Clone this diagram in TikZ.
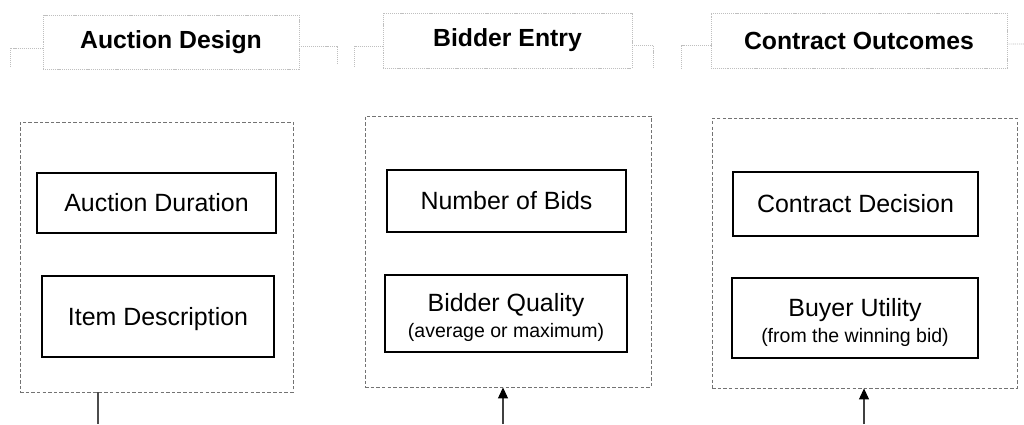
\documentclass[tikz,border=0pt]{standalone}
\usepackage{fontspec}
\setmainfont{Liberation Sans}
\usetikzlibrary{arrows.meta}

\begin{document}
\begin{tikzpicture}[x=0.02cm, y=-0.02cm,
	  head/.style={draw=black!25, dash pattern=on 0.6pt off 0.5pt, line width=0.5pt, font=\fontsize{14.1}{17}\selectfont\bfseries},
	  brk/.style={draw=black!25, dash pattern=on 0.6pt off 0.5pt, line width=0.5pt},
	  group/.style={draw=black!55, dash pattern=on 2pt off 1.2pt, line width=0.5pt, inner sep=0pt},
	  var/.style={draw, line width=1.4pt, align=center, inner sep=0pt, font=\fontsize{14.2}{14.8}\selectfont},
	  arr/.style={draw=black!75, line width=0.6pt, -{Triangle[length=0.22cm,width=0.2cm,color=black]}}]
	  \useasboundingbox (0,0) rectangle (1024,424);
	  \node [head, minimum width=5.12cm, minimum height=1.08cm] (hdA) at (171,42) {Auction Design};
	  \node [head, minimum width=4.98cm, minimum height=1.1cm] (hdB) at (507.5,40.5) {Bidder Entry};
	  \node [head, minimum width=5.92cm, minimum height=1.1cm] (hdC) at (859,40.5) {Contract Outcomes};
	  \coordinate (aL) at (10,66);
	  \coordinate (aR) at (337,64);
	  \coordinate (bL) at (354,67);
	  \coordinate (bR) at (653,67);
	  \coordinate (cL) at (681,68);
	  \coordinate (cR) at (1024,44);
	  \draw [brk] ([yshift=-0.12cm]hdA.west) -| (aL);
	  \draw [brk] ([yshift=-0.08cm]hdA.east) -| (aR);
	  \draw [brk] ([yshift=-0.11cm]hdB.west) -| (bL);
	  \draw [brk] ([yshift=-0.09cm]hdB.east) -| (bR);
	  \draw [brk] ([yshift=-0.09cm]hdC.west) -| (cL);
	  \draw [brk] ([yshift=-0.07cm]hdC.east) -- (cR);
	  \node [group, minimum width=5.46cm, minimum height=5.4cm] (grpA) at (156.5,257) {};
	  \node [group, minimum width=5.72cm, minimum height=5.42cm] (grpB) at (508,251.5) {};
	  \node [group, minimum width=6.1cm, minimum height=5.4cm] (grpC) at (864.5,253) {};
	  \node [var, minimum width=4.78cm, minimum height=1.2cm] (durA) at (156.5,203) {Auction Duration};
	  \node [var, minimum width=4.64cm, minimum height=1.62cm, text depth=0pt] (itemA) at (158,316.5) {Item Description};
	  \node [var, minimum width=4.78cm, minimum height=1.24cm] (bidsB) at (506.5,201) {Number of Bids};
	  \node [var, minimum width=4.84cm, minimum height=1.54cm] (qualB) at (506,313.5) {\rule{0pt}{15pt}Bidder Quality\\{\fontsize{11.1}{14.8}\selectfont (average or maximum)}};
	  \node [var, minimum width=4.9cm, minimum height=1.28cm] (decC) at (855.5,204) {Contract Decision};
	  \node [var, minimum width=4.92cm, minimum height=1.6cm] (utilC) at (855,318) {\rule{0pt}{15pt}Buyer Utility\\{\fontsize{11.1}{14.8}\selectfont (from the winning bid)}};
	  \coordinate (lA) at (98,424);
	  \coordinate (sB) at (503,424);
	  \coordinate (sC) at (864,424);
	  \draw [draw=black!70, line width=0.8pt] (grpA.south -| lA) -- (lA);
	  \draw [arr] (sB) -- (sB |- grpB.south);
	  \draw [arr] (sC) -- (sC |- grpC.south);
	 \end{tikzpicture}
\end{document}
